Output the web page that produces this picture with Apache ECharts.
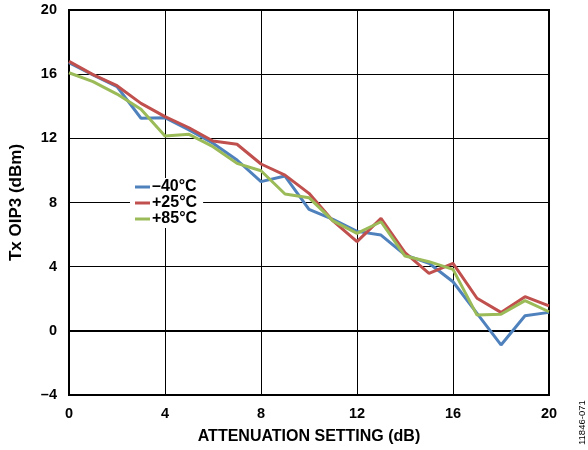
<!DOCTYPE html>
<html>
<head>
<meta charset="utf-8">
<script src="https://cdn.jsdelivr.net/npm/echarts@6/dist/echarts.min.js"></script>
<style>html,body{margin:0;padding:0;background:#fff}#c{width:588px;height:450px}</style>
</head>
<body>
<div id="c"></div>
<script>
var attenuation = [0,1,2,3,4,5,6,7,8,9,10,11,12,13,14,15,16,17,18,19,20];
var seriesNames = ['\u201340\u00b0C', '+25\u00b0C', '+85\u00b0C'];
var oip3Minus40 = [16.72,15.95,15.22,13.25,13.29,12.52,11.69,10.65,9.3,9.65,7.57,6.95,6.2,5.97,4.73,4.21,3.06,1.09,-0.88,0.94,1.15];
var oip3Plus25  = [16.8,15.97,15.28,14.18,13.35,12.66,11.83,11.63,10.4,9.71,8.57,6.85,5.56,7.01,4.87,3.58,4.21,2.03,1.15,2.13,1.55];
var oip3Plus85  = [16.09,15.53,14.76,13.81,12.14,12.25,11.48,10.44,9.98,8.53,8.3,6.85,6.08,6.8,4.66,4.31,3.83,0.98,1.03,1.88,1.19];
var xTicks = {min:0, max:20, interval:4};
var yTicks = {min:-4, max:20, interval:4};
var colors = ['#4f81bd', '#c0504d', '#9bbb59'];

function pairs(v){ return attenuation.map(function(x,i){ return [x, v[i]]; }); }
var font = 'Liberation Sans, Arial, sans-serif';
var chart = echarts.init(document.getElementById('c'));
chart.setOption({
  animation: false,
  color: colors,
  grid: {left: 68, right: 39, top: 10, bottom: 55, show: true, borderColor: '#000', borderWidth: 2, backgroundColor: 'transparent'},
  legend: {
    orient: 'vertical', left: 130, top: 178,
    data: seriesNames,
    icon: 'rect', itemWidth: 15, itemHeight: 3, itemGap: 0,
    backgroundColor: '#fff', padding: [1, 6, 1, 5],
    textStyle: {fontFamily: font, fontWeight: 'bold', fontSize: 16, lineHeight: 15.5, color: '#000', padding: [0,0,0,-3]}
  },
  xAxis: {
    type: 'value', min: xTicks.min, max: xTicks.max, interval: xTicks.interval,
    name: 'ATTENUATION SETTING (dB)', nameLocation: 'middle', nameGap: 34,
    nameTextStyle: {fontFamily: font, fontWeight: 'bold', fontSize: 16, color: '#000'},
    axisLine: {lineStyle: {color: '#000', width: 2}},
    axisTick: {show: false},
    axisLabel: {fontFamily: font, fontWeight: 'bold', fontSize: 14.5, color: '#000', margin: 11},
    splitLine: {lineStyle: {color: '#000', width: 1}}
  },
  yAxis: {
    type: 'value', min: yTicks.min, max: yTicks.max, interval: yTicks.interval,
    name: 'Tx OIP3 (dBm)', nameLocation: 'middle', nameGap: 44,
    nameTextStyle: {fontFamily: font, fontWeight: 'bold', fontSize: 17, color: '#000'},
    axisLine: {lineStyle: {color: '#000', width: 2}},
    axisTick: {show: false},
    axisLabel: {fontFamily: font, fontWeight: 'bold', fontSize: 14.5, color: '#000', margin: 12,
      formatter: function(v){ return String(v).replace('-', '\u2013'); }},
    splitLine: {lineStyle: {color: '#000', width: 1}}
  },
  series: [
    {name: seriesNames[0], type: 'line', data: pairs(oip3Minus40), symbol: 'none', lineStyle: {width: 3, color: colors[0]}, z: 3},
    {name: seriesNames[1], type: 'line', data: pairs(oip3Plus25), symbol: 'none', lineStyle: {width: 3, color: colors[1]}, z: 4},
    {name: seriesNames[2], type: 'line', data: pairs(oip3Plus85), symbol: 'none', lineStyle: {width: 3, color: colors[2]}, z: 5}
  ],
  graphic: [{
    type: 'text', x: 582, y: 445, rotation: Math.PI/2,
    style: {text: '11846-071', fontFamily: font, fontSize: 9.5, fill: '#000', textAlign: 'left', textVerticalAlign: 'middle'}
  }]
});
</script>
</body>
</html>
